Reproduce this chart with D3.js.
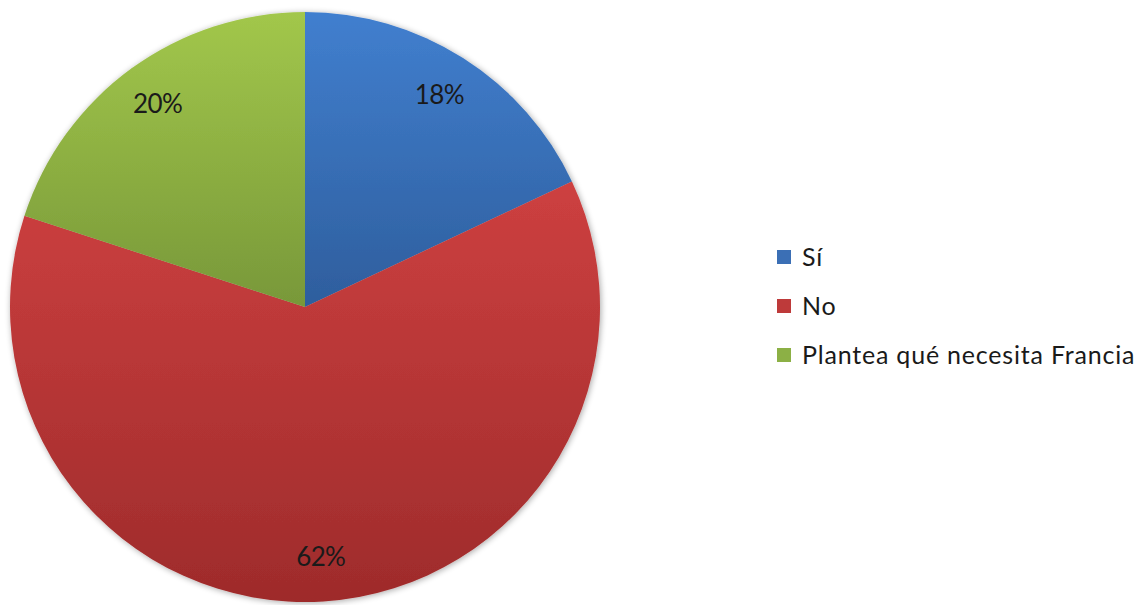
<!DOCTYPE html>
<html><head><meta charset="utf-8">
<script src="https://cdnjs.cloudflare.com/ajax/libs/d3/7.8.5/d3.min.js"></script>
<style>body{margin:0;background:#fff}svg{display:block}</style>
</head><body>
<svg id="c" width="1142" height="605"></svg>
<script>
const categories = ["Sí", "No", "Plantea qué necesita Francia"];
const values = [18, 62, 20];
const labels = ["18%", "62%", "20%"];
const colorsTop = ["#417fcf", "#cd4040", "#a2c74b"];
const colorsBottom = ["#2e5e9d", "#9e2b2b", "#789839"];
const legendColors = ["#3b6fb5", "#be3a3a", "#8cb045"];

const svg = d3.select("#c");
const cx = 305, cy = 307, R = 295;
const defs = svg.append("defs");
const f = defs.append("filter").attr("id","sh").attr("x","-10%").attr("y","-10%").attr("width","120%").attr("height","120%");
f.append("feGaussianBlur").attr("in","SourceAlpha").attr("stdDeviation",3);
f.append("feOffset").attr("dx",1).attr("dy",1).attr("result","b");
f.append("feComponentTransfer").append("feFuncA").attr("type","linear").attr("slope",0.35);
const m = f.append("feMerge"); m.append("feMergeNode"); m.append("feMergeNode").attr("in","SourceGraphic");

categories.forEach((c,i)=>{
  const g = defs.append("linearGradient").attr("id","g"+i).attr("x1",0).attr("y1",0).attr("x2",0).attr("y2",1);
  g.append("stop").attr("offset","0%").attr("stop-color",colorsTop[i]);
  g.append("stop").attr("offset","100%").attr("stop-color",colorsBottom[i]);
});

const pie = d3.pie().sort(null).value(d=>d);
const arcs = pie(values);
const arc = d3.arc().innerRadius(0).outerRadius(R);
const labelArc = d3.arc().innerRadius(R*0.85).outerRadius(R*0.85);
const gp = svg.append("g").attr("transform",`translate(${cx},${cy})`);
gp.append("g").attr("filter","url(#sh)").selectAll("path").data(arcs).join("path")
  .attr("d",arc).attr("fill",(d,i)=>`url(#g${i})`);
gp.selectAll("text").data(arcs).join("text")
  .attr("transform",d=>`translate(${labelArc.centroid(d)})`)
  .attr("text-anchor","middle").attr("dy","0.35em")
  .attr("font-family","Lato, 'Open Sans', sans-serif").attr("font-size",26)
  .attr("letter-spacing",-0.6).attr("fill","#1a1a1a")
  .text((d,i)=>labels[i]);

const lg = svg.append("g").attr("transform","translate(777,257)");
const items = lg.selectAll("g").data(categories).join("g").attr("transform",(d,i)=>`translate(0,${i*49})`);
items.append("rect").attr("x",0).attr("y",-7).attr("width",14).attr("height",14).attr("fill",(d,i)=>legendColors[i]);
items.append("text").attr("x",25).attr("dy","0.35em").attr("font-family","Lato, 'Open Sans', sans-serif")
  .attr("font-size",25).attr("letter-spacing",0.8).attr("fill","#1a1a1a").text(d=>d);
</script>
</body></html>
